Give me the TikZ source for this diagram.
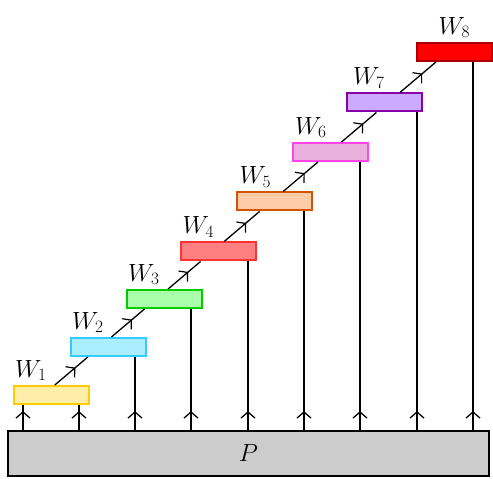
\documentclass[tikz,border=0pt]{standalone}
\usepackage{xcolor}
\usepackage{tikz}
\usetikzlibrary{arrows.meta, positioning, calc, decorations.markings}
\definecolor{pgray}{HTML}{CCCCCC}
\definecolor{wfillA}{HTML}{FFEEAA}\definecolor{wdrawA}{HTML}{FFCC00}
\definecolor{wfillB}{HTML}{AAEEFF}\definecolor{wdrawB}{HTML}{33CCFF}
\definecolor{wfillC}{HTML}{AAFFAA}\definecolor{wdrawC}{HTML}{00CC00}
\definecolor{wfillD}{HTML}{FF8080}\definecolor{wdrawD}{HTML}{FF3333}
\definecolor{wfillE}{HTML}{FFCCAA}\definecolor{wdrawE}{HTML}{D45500}
\definecolor{wfillF}{HTML}{E9AFDD}\definecolor{wdrawF}{HTML}{FF44EE}
\definecolor{wfillG}{HTML}{CCAAFF}\definecolor{wdrawG}{HTML}{8800AA}
\definecolor{wfillH}{HTML}{FF0000}\definecolor{wdrawH}{HTML}{AA0000}

\begin{document}
\begin{tikzpicture}[
    x=1pt, y=1pt,
    wbox/.style={rectangle, draw, line width=2pt, minimum width=75pt, minimum height=18pt, inner sep=0pt},
    pbox/.style={rectangle, draw, line width=1.6pt, fill=pgray, minimum width=481pt, minimum height=45pt, inner sep=0pt, font=\fontsize{26}{30}\selectfont},
    wlabel/.style={inner sep=0pt, font=\fontsize{26}{30}\selectfont},
    barb/.tip={Straight Barb[length=6pt, width=14pt]},
    feed/.style={line width=1.6pt, postaction={decorate},
        decoration={markings, mark=at position 19pt with {\arrow[line width=1.3pt]{barb}}}},
    chain/.style={line width=1.3pt, postaction={decorate},
        decoration={markings, mark=at position 0.62 with {\arrow[line width=1.2pt]{barb}}}}
]
    \useasboundingbox (0,0) rectangle (493,479);

    % shared part
    \node[pbox] (p) at (248.5,25.5) {$P$};

    % the eight W boxes
    \foreach \i/\x/\y/\c/\dx in {1/51.5/84/A/2, 2/108.5/132/B/2, 3/164.5/180/C/2,
        4/218/227.5/D/3, 5/274/277.5/E/4, 6/330.5/327/F/3, 7/384.5/376.5/G/7, 8/454/427/H/23} {
        \node[wbox, fill=wfill\c, draw=wdraw\c] (w\i) at (\x,\y) {};
        \node[wlabel, above right=4pt and \dx pt of w\i.north west] (l\i) {$W_{\i}$};
    }

    % links from P up to the boxes
    \foreach \x/\w in {23/1, 79/1, 135/2, 191/3, 248/4, 304/5, 360/6, 417/7, 473/8} {
        \coordinate (col) at (\x,0);
        \draw[feed] (p.north -| col) -- (w\w.south -| col);
    }

    % chain from one box to the next
    \foreach \i [evaluate=\i as \j using int(\i+1)] in {1,...,7}
        \draw[chain] let \p1=(w\i.north), \p2=(w\j.south) in
            ({56+(\y1-95)*1.18},\y1) -- ({56+(\y2-95)*1.18},\y2);
\end{tikzpicture}
\end{document}
